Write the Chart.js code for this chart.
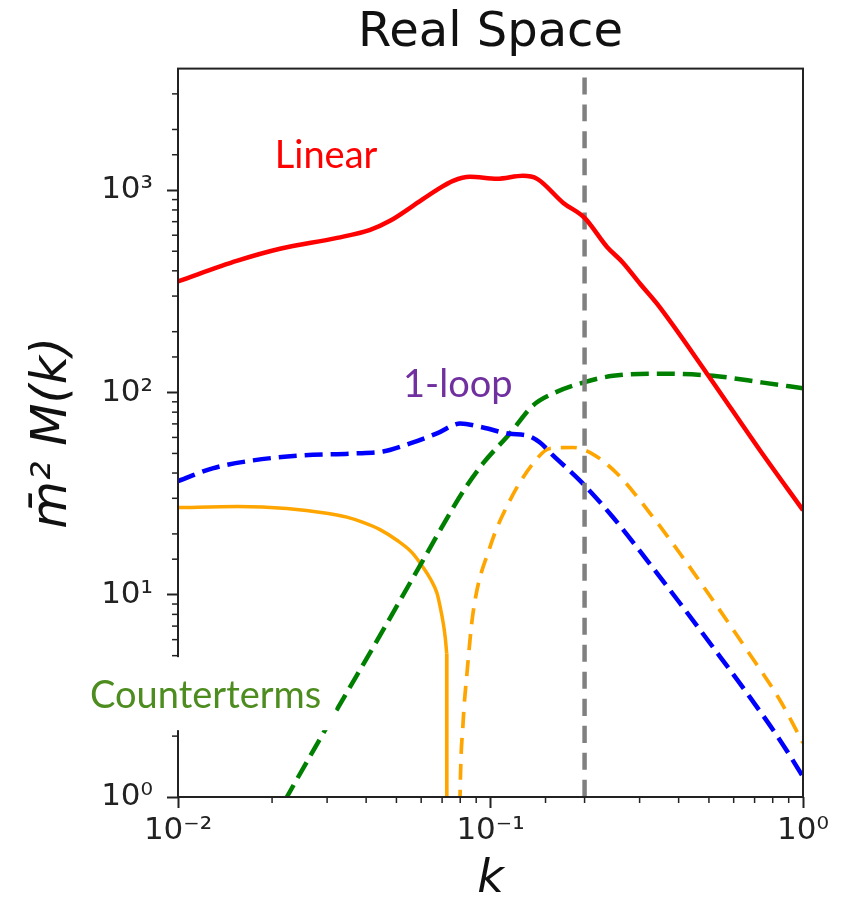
<!DOCTYPE html>
<html>
<head>
<meta charset="utf-8">
<script src="https://cdn.jsdelivr.net/npm/chart.js@4.4.0/dist/chart.umd.min.js"></script>
<style>
  html, body { margin: 0; padding: 0; background: #fff; }
  #wrap { width: 853px; height: 910px; position: relative; }
</style>
</head>
<body>
<div id="wrap"><canvas id="myChart"></canvas></div>
<script>
// values (k, mbar^2 M(k))
const kLinear = [0.01, 0.0155, 0.0212, 0.0323, 0.0412, 0.0477, 0.0565, 0.0674, 0.0759, 0.086, 0.105, 0.127, 0.141, 0.171, 0.2, 0.236, 0.265, 0.301, 0.341, 0.493, 0.729, 1.0]
const mLinear = [355, 449, 514, 582, 638, 707, 838, 1005, 1114, 1166, 1140, 1180, 1140, 867, 731, 525, 440, 345, 275, 124, 51.7, 26.2]

const kLoop = [0.01, 0.0129, 0.0174, 0.0251, 0.0363, 0.0453, 0.0553, 0.0674, 0.08, 0.0946, 0.115, 0.131, 0.144, 0.1585, 0.193, 0.247, 0.317, 0.404, 0.515, 0.662, 0.844, 1.0]
const mLoop = [36.5, 42.2, 46.2, 48.9, 50, 51.1, 56, 62.8, 70.3, 67.2, 62.5, 61.3, 56.6, 48.9, 36.8, 24.1, 14.8, 9.08, 5.51, 3.26, 1.91, 1.26]

const kCounter = [0.02, 0.0223, 0.0306, 0.0453, 0.0608, 0.0817, 0.0946, 0.1154, 0.1368, 0.1585, 0.1977, 0.2466, 0.3565, 0.515, 0.745, 1.0]
const mCounter = [0.74, 1.0, 2.35, 6.68, 14.8, 32.4, 44.6, 62.8, 86.3, 98.9, 112, 121, 124, 121, 112, 105]

// orange solid (positive part, then the drop where it turns negative) and orange dashed (negative part)
const kOrangeSolid = [0.01, 0.0155, 0.0223, 0.0299, 0.0347, 0.0391, 0.0443, 0.0502, 0.056, 0.0608, 0.0644, 0.0674, 0.0692, 0.0706, 0.0717, 0.0724]
const mOrangeSolid = [27.0, 27.3, 26.7, 25.3, 24.2, 22.8, 21.0, 18.6, 16.2, 13.7, 11.9, 10.2, 8.55, 7.23, 6.08, 5.14]
const kOrangeDrop = [0.0724, 0.0725]
const mOrangeDrop = [5.14, 0.01]
const kOrangeDash = [0.0795, 0.0799, 0.0817, 0.0841, 0.0879, 0.0996, 0.1154, 0.1368, 0.155, 0.1836, 0.2083, 0.254, 0.324, 0.404, 0.515, 0.662, 0.844, 1.0]
const mOrangeDash = [0.5, 1.0, 2.32, 4.10, 8.11, 17.2, 29.3, 44.6, 52.9, 53.5, 50.5, 39.8, 25.3, 16.0, 9.4, 5.32, 3.01, 1.85]

const kCut = 0.2
const xMajor = [0.01, 0.1, 1]
const xMajorLabels = ['10⁻²', '10⁻¹', '10⁰']
const yMajor = [1, 10, 100, 1000]
const yMajorLabels = ['10⁰', '10¹', '10²', '10³']
const yMin = 1, yMax = 4000

const pts = (xs, ys) => xs.map((x, i) => ({x: x, y: ys[i]}))
const isMajor = v => v > 0 && Math.abs(Math.log10(v) - Math.round(Math.log10(v))) < 1e-6
const labelFor = (majors, labels, v) => {
  const i = majors.findIndex(m => Math.abs(v / m - 1) < 1e-6)
  return i >= 0 ? labels[i] : ''
}

// curve names written on the plot
const notes = [
  {text: 'Linear', k: 0.0204, m: 1291, color: '#ff0000', box: false},
  {text: '1-loop', k: 0.0525, m: 95.5, color: '#7030a0', box: false},
  {text: 'Counterterms', k: 0.00523, m: 2.75, color: '#4d8c1e', box: true}
]

const extras = {
  id: 'extras',
  afterDatasetsDraw(chart) {
    const {ctx, chartArea: a, scales} = chart
    ctx.save()
    // minor ticks
    ctx.strokeStyle = '#222'
    ctx.lineWidth = 1.5
    scales.x.ticks.forEach(t => {
      if (isMajor(t.value)) return
      const px = scales.x.getPixelForValue(t.value)
      ctx.beginPath(); ctx.moveTo(px, a.bottom); ctx.lineTo(px, a.bottom + 6); ctx.stroke()
    })
    scales.y.ticks.forEach(t => {
      if (isMajor(t.value) || t.value >= yMax) return
      const py = scales.y.getPixelForValue(t.value)
      ctx.beginPath(); ctx.moveTo(a.left, py); ctx.lineTo(a.left - 6, py); ctx.stroke()
    })
    // frame
    ctx.lineWidth = 2
    ctx.strokeRect(a.left, a.top, a.right - a.left, a.bottom - a.top)
    // labels
    ctx.font = '38px Lato'
    ctx.textBaseline = 'alphabetic'
    ctx.textAlign = 'left'
    notes.forEach(n => {
      const px = scales.x.getPixelForValue(n.k)
      const py = scales.y.getPixelForValue(n.m)
      if (n.box) {
        const w = ctx.measureText(n.text).width
        ctx.fillStyle = '#fff'
        ctx.fillRect(px - 5, py - 51, w + 19, 73)
      }
      ctx.fillStyle = n.color
      ctx.fillText(n.text, px, py)
    })
    ctx.restore()
  }
}

const ctxc = document.getElementById('myChart')

new Chart(ctxc, {
  type: 'line',
  data: {
    datasets: [
      {label: 'Linear', data: pts(kLinear, mLinear), borderColor: '#ff0000', borderWidth: 4.5},
      {label: 'cut', data: [{x: kCut, y: yMax}, {x: kCut, y: yMin}], borderColor: '#808080', borderWidth: 4.5, borderDash: [17, 10], borderDashOffset: -9},
      {label: '1-loop', data: pts(kLoop, mLoop), borderColor: '#0000ff', borderWidth: 4.5, borderDash: [18, 8]},
      {label: 'Counterterms', data: pts(kCounter, mCounter), borderColor: '#008000', borderWidth: 4.5, borderDash: [18, 8]},
      {label: 'orange +', data: pts(kOrangeSolid, mOrangeSolid), borderColor: '#ffa500', borderWidth: 3.5},
      {label: 'orange drop', data: pts(kOrangeDrop, mOrangeDrop), borderColor: '#ffa500', borderWidth: 3.5, tension: 0, cubicInterpolationMode: 'default'},
      {label: 'orange -', data: pts(kOrangeDash, mOrangeDash), borderColor: '#ffa500', borderWidth: 3.7, borderDash: [16, 10]}
    ]
  },
  options: {
    responsive: true,
    maintainAspectRatio: false,
    animation: false,
    layout: {padding: {left: 0, right: 50, top: 0, bottom: 0}},
    elements: {
      point: {radius: 0, hoverRadius: 0},
      line: {cubicInterpolationMode: 'monotone', fill: false}
    },
    plugins: {
      legend: {display: false},
      tooltip: {enabled: false},
      title: {
        display: true,
        text: 'Real Space',
        fullSize: false,
        color: '#111',
        font: {family: 'DejaVu Sans', size: 48, weight: 'normal'},
        padding: {top: 5, bottom: 6}
      }
    },
    scales: {
      x: {
        type: 'logarithmic',
        min: 0.01,
        max: 1,
        border: {display: false},
        grid: {
          drawOnChartArea: false,
          drawTicks: true,
          tickLength: 11,
          tickWidth: 2,
          tickColor: c => (c.tick && isMajor(c.tick.value)) ? '#222' : 'rgba(0,0,0,0)'
        },
        ticks: {
          autoSkip: false,
          maxRotation: 0,
          padding: 4,
          color: '#222',
          font: {family: 'DejaVu Sans', size: 31},
          callback: v => labelFor(xMajor, xMajorLabels, v)
        },
        title: {
          display: true,
          text: 'k',
          color: '#111',
          font: {family: 'DejaVu Sans', size: 46, style: 'italic'},
          padding: {top: 0, bottom: 2}
        },
        afterFit: s => { s.height = 113 }
      },
      y: {
        type: 'logarithmic',
        min: yMin,
        max: yMax,
        border: {display: false},
        grid: {
          drawOnChartArea: false,
          drawTicks: true,
          tickLength: 11,
          tickWidth: 2,
          tickColor: c => (c.tick && isMajor(c.tick.value)) ? '#222' : 'rgba(0,0,0,0)'
        },
        ticks: {
          autoSkip: false,
          padding: 14,
          color: '#222',
          font: {family: 'DejaVu Sans', size: 31},
          callback: v => labelFor(yMajor, yMajorLabels, v)
        },
        title: {
          display: true,
          text: 'm̄² M(k)',
          color: '#111',
          font: {family: 'DejaVu Sans', size: 49, style: 'italic'},
          padding: {top: 24, bottom: 0}
        },
        afterFit: s => { s.width = 178 }
      }
    }
  },
  plugins: [extras]
})
</script>
</body>
</html>
